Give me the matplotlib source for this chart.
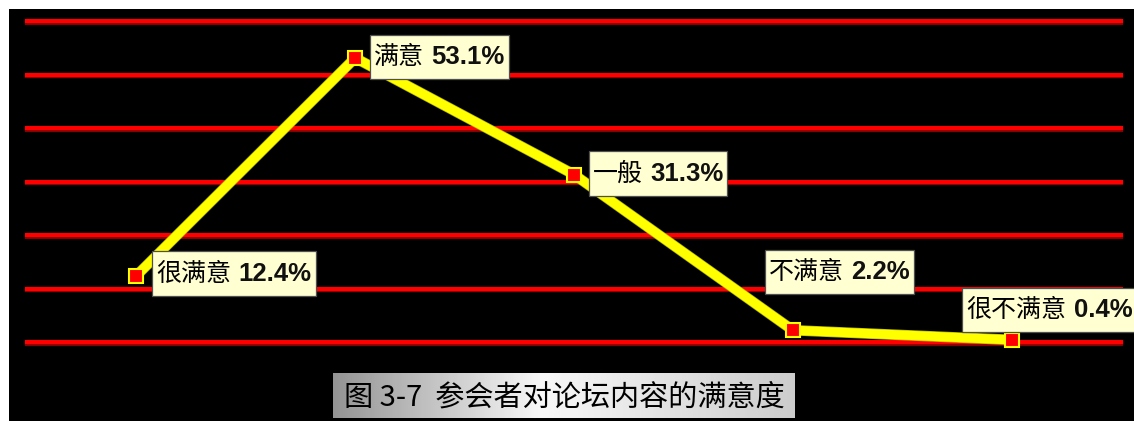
import matplotlib
matplotlib.use('Agg')
import matplotlib.pyplot as plt
import matplotlib.patheffects as pe
import numpy as np
from matplotlib.offsetbox import TextArea, HPacker, AnnotationBbox, DrawingArea
from matplotlib.patches import Rectangle

# satisfaction levels and share of respondents (%)
levels = ['很满意', '满意', '一般', '不满意', '很不满意']
shares = [12.4, 53.1, 31.3, 2.2, 0.4]
grid_values = [0, 10, 20, 30, 40, 50, 60]
title = '图 3-7  参会者对论坛内容的满意度'

# label box offsets from each point, in pixels
label_offsets = [(20, 2), (19, 1), (19, 1), (-24, 58), (-45, 30)]

W, H = 1134, 421
fig = plt.figure(figsize=(W / 100, H / 100), dpi=100)
fig.patch.set_facecolor('white')

# black backdrop
fig.patches.append(Rectangle((9 / W, 0), (W - 9) / W, (H - 9) / H,
                             transform=fig.transFigure, facecolor='black',
                             edgecolor='none', zorder=-10))

ax = fig.add_axes([27 / W, 79 / H, 1094 / W, 321 / H])
ax.set_facecolor('none')
ax.set_xlim(-0.5, len(levels) - 0.5)
ax.set_ylim(0, 60)
ax.axis('off')

for g in grid_values:
    ax.axhline(g, color='#ff0000', lw=3, clip_on=False, zorder=1,
               path_effects=[pe.SimpleLineShadow(offset=(0, -1.2), shadow_color='#8a0000', alpha=1),
                             pe.Normal()])

x = np.arange(len(levels))
ax.plot(x, shares, color='#ffff00', lw=6.6, zorder=3, clip_on=False,
        solid_joinstyle='miter',
        path_effects=[pe.Stroke(linewidth=7.6, foreground='#b8b800'), pe.Normal()])
ax.plot(x, shares, ls='none', marker='s', ms=9.5, mfc='#ff0000', mec='#ffff00',
        mew=1.5, zorder=4, clip_on=False)

for i, (name, val) in enumerate(zip(levels, shares)):
    cjk = TextArea(name, textprops=dict(family=['Noto Sans CJK SC', 'DejaVu Sans'],
                                        fontsize=18, color='black'))
    num = TextArea(f'{val}%', textprops=dict(family=['Liberation Sans', 'DejaVu Sans'],
                                             fontsize=18.5, fontweight='bold', color='#111111'))
    words = HPacker(children=[cjk, num], sep=5, align='baseline', pad=0)
    # zero-width spacer sets the box height
    spacer = DrawingArea(0, 26)
    pack = HPacker(children=[spacer, words], sep=0, align='center', pad=0)
    dx, dy = label_offsets[i]
    ab = AnnotationBbox(pack, (x[i], val), xybox=(dx, dy), xycoords='data',
                        boxcoords='offset pixels', box_alignment=(0, 0.5),
                        frameon=True, pad=0.3, annotation_clip=False,
                        bboxprops=dict(facecolor='#ffffd2', edgecolor='#505050',
                                       lw=0.9, boxstyle='square'),
                        zorder=5)
    ax.add_artist(ab)

# title plate with grey gradient
tax = fig.add_axes([333 / W, 3 / H, 462 / W, 45 / H])
grad = np.interp(np.linspace(0, 1, 256), [0, 0.45, 1], [0.58, 0.97, 0.80])
tax.imshow(np.tile(grad, (8, 1)), cmap='gray', vmin=0, vmax=1, aspect='auto',
           extent=(0, 1, 0, 1))
tax.set_xlim(0, 1)
tax.set_ylim(0, 1)
tax.axis('off')
tax.text(0.5, 0.45, title, ha='center', va='center', fontsize=21,
         family=['Noto Sans CJK SC', 'DejaVu Sans'], fontweight='medium', color='black')

fig.savefig('out.png', dpi=100, facecolor=fig.get_facecolor())
